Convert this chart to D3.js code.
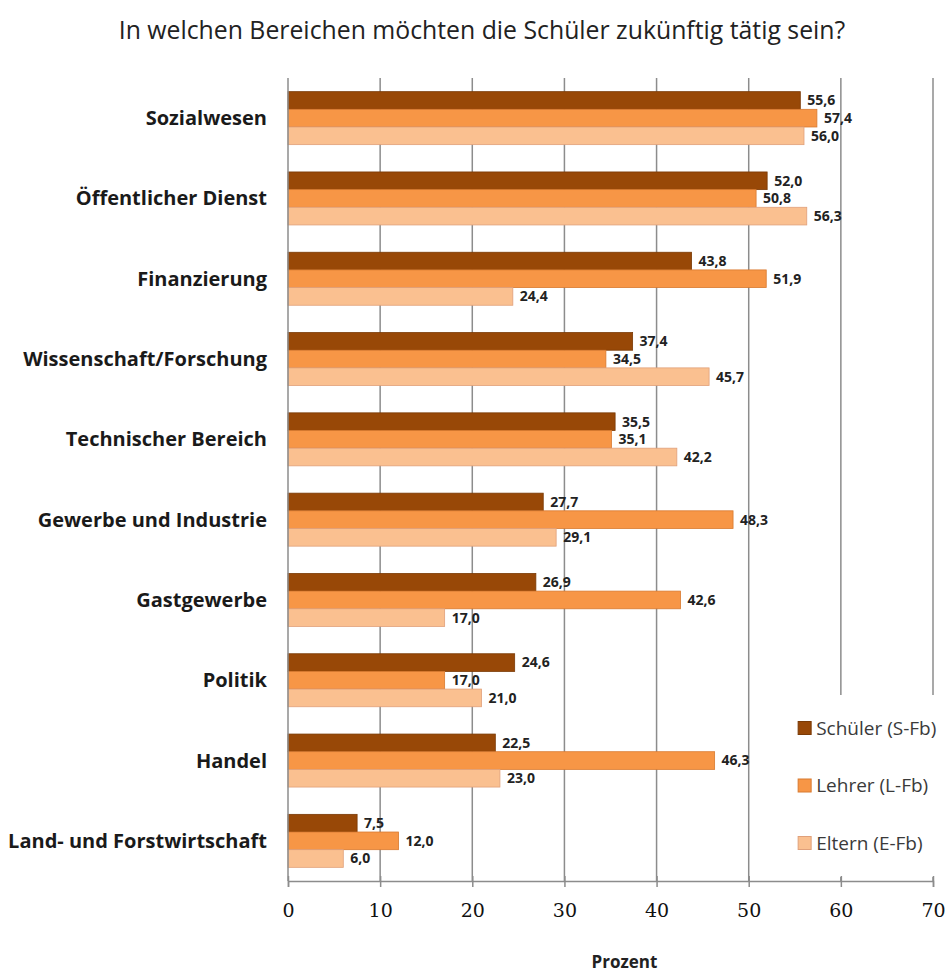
<!DOCTYPE html>
<meta charset="utf-8">
<script src="https://d3js.org/d3.v7.min.js"></script>
<style>
    body { margin: 0; background: #fff; }
    text { font-family: "Open Sans", "DejaVu Sans", sans-serif; }
    .tick text { font-family: "DejaVu Serif", serif; }
</style>
<body>
</body>
<script>
    // values
    var categories = ["Sozialwesen", "Öffentlicher Dienst", "Finanzierung", "Wissenschaft/Forschung",
        "Technischer Bereich", "Gewerbe und Industrie", "Gastgewerbe", "Politik", "Handel",
        "Land- und Forstwirtschaft"];
    var series = ["Schüler (S-Fb)", "Lehrer (L-Fb)", "Eltern (E-Fb)"];
    var schueler = [55.6, 52.0, 43.8, 37.4, 35.5, 27.7, 26.9, 24.6, 22.5, 7.5];
    var lehrer   = [57.4, 50.8, 51.9, 34.5, 35.1, 48.3, 42.6, 17.0, 46.3, 12.0];
    var eltern   = [56.0, 56.3, 24.4, 45.7, 42.2, 29.1, 17.0, 21.0, 23.0, 6.0];
    var xTicks = [0, 10, 20, 30, 40, 50, 60, 70];

    var colors = ["#984807", "#F79646", "#FAC090"];
    var strokes = ["#7a3a06", "#d87a30", "#e0a07a"];

    var margin = {top: 78, right: 13, bottom: 91, left: 288},
        width = 946 - margin.left - margin.right,
        height = 972 - margin.top - margin.bottom;

    var svg = d3.select("body")
        .append("svg")
            .attr("width", 946)
            .attr("height", 972);

    var g = svg.append("g")
        .attr("transform", "translate(" + margin.left + "," + margin.top + ")");

    var x = d3.scaleLinear().domain([0, 70]).range([0, width]);
    var y = d3.scaleBand().domain(categories).range([0, height]).paddingInner(0.34).paddingOuter(0.17);
    var ySub = d3.scaleBand().domain([0, 1, 2]).range([0, y.bandwidth()]);

    // gridlines
    g.selectAll(".grid")
        .data(xTicks.slice(1))
        .enter()
        .append("line")
            .attr("x1", d => x(d))
            .attr("x2", d => x(d))
            .attr("y1", 0)
            .attr("y2", height)
            .attr("stroke", "#8c8c8c")
            .attr("stroke-width", 1.5);

    var table = categories.map(function(c, i) {
        return {cat: c, vals: [schueler[i], lehrer[i], eltern[i]]};
    });

    var groups = g.selectAll(".grp")
        .data(table)
        .enter()
        .append("g")
            .attr("transform", d => "translate(0," + y(d.cat) + ")");

    groups.selectAll("rect")
        .data(d => d.vals)
        .enter()
        .append("rect")
            .attr("x", 0)
            .attr("y", (d, i) => ySub(i))
            .attr("width", d => x(d))
            .attr("height", ySub.bandwidth())
            .attr("fill", (d, i) => colors[i])
            .attr("stroke", (d, i) => strokes[i])
            .attr("stroke-width", 0.8);

    var fmt = d3.formatLocale({decimal: ",", thousands: ".", grouping: [3], currency: ["", "€"]}).format(".1f");

    groups.selectAll(".val")
        .data(d => d.vals)
        .enter()
        .append("text")
            .attr("x", d => x(d) + 7)
            .attr("y", (d, i) => ySub(i) + ySub.bandwidth() / 2)
            .attr("dy", "0.35em")
            .attr("font-size", 14)
            .attr("font-weight", "bold")
            .attr("fill", "#222")
            .text(d => fmt(d));

    // category labels
    g.selectAll(".cat")
        .data(categories)
        .enter()
        .append("text")
            .attr("x", -21)
            .attr("y", d => y(d) + y.bandwidth() / 2)
            .attr("dy", "0.35em")
            .attr("text-anchor", "end")
            .attr("font-size", 20)
            .attr("font-weight", "bold")
            .attr("fill", "#1a1a1a")
            .text(d => d);

    // legend box (white, covers grid)
    var lg = g.append("g").attr("transform", "translate(" + (x(52)) + "," + (617) + ")");
    lg.append("rect")
        .attr("x", 0).attr("y", 0)
        .attr("width", 946 - margin.left - x(52))
        .attr("height", 182)
        .attr("fill", "#fff");
    series.forEach(function(s, i) {
        var yy = 33 + i * 57.5;
        lg.append("rect")
            .attr("x", 31).attr("y", yy - 6.5)
            .attr("width", 13).attr("height", 13)
            .attr("fill", colors[i])
            .attr("stroke", strokes[i]);
        lg.append("text")
            .attr("x", 49).attr("y", yy)
            .attr("dy", "0.35em")
            .attr("font-size", 19)
            .attr("fill", "#3a3a3a")
            .text(s);
    });

    // y axis line
    g.append("line")
        .attr("x1", 0).attr("x2", 0)
        .attr("y1", 0).attr("y2", height)
        .attr("stroke", "#8c8c8c").attr("stroke-width", 1.5);

    // x axis
    var xAxis = d3.axisBottom(x).tickValues(xTicks).tickSize(6).tickPadding(17);
    var ax = g.append("g")
        .attr("transform", "translate(0," + height + ")")
        .call(xAxis);
    ax.select(".domain").attr("stroke", "#8c8c8c").attr("stroke-width", 1.5);
    ax.selectAll(".tick line").attr("stroke", "#8c8c8c").attr("stroke-width", 1.5).attr("y1", -5);
    ax.selectAll(".tick text")
        .attr("font-size", 19)
        .attr("fill", "#111");

    svg.append("text")
        .attr("x", margin.left + x(35) + 14)
        .attr("y", 968)
        .attr("text-anchor", "middle")
        .attr("font-size", 17)
        .attr("font-weight", "bold")
        .attr("fill", "#222")
        .text("Prozent");

    svg.append("text")
        .attr("x", 482)
        .attr("y", 39)
        .attr("text-anchor", "middle")
        .attr("font-size", 24.8)
        .attr("fill", "#222")
        .text("In welchen Bereichen möchten die Schüler zukünftig tätig sein?");
</script>
